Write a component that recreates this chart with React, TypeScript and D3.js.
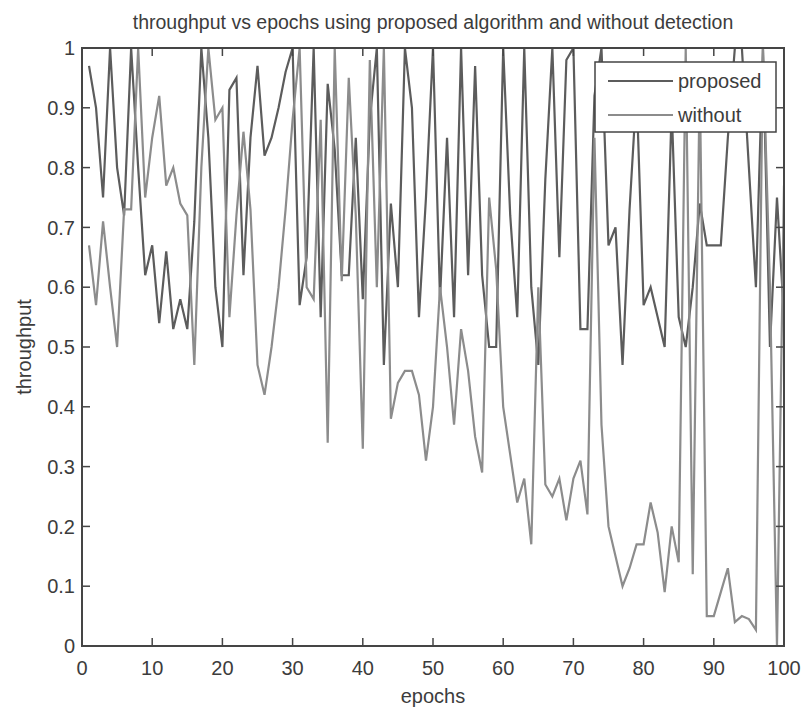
import React, { useEffect, useRef } from 'react';
import * as d3 from 'd3';

// throughput per epoch (1..100)
const proposed = [
  0.97, 0.9, 0.75, 1.0, 0.8, 0.72, 1.0, 0.8, 0.62, 0.67,
  0.54, 0.66, 0.53, 0.58, 0.53, 0.71, 1.0, 0.85, 0.6, 0.5,
  0.93, 0.95, 0.62, 0.85, 0.97, 0.82, 0.85, 0.9, 0.96, 1.0,
  0.57, 0.65, 1.0, 0.55, 0.94, 0.83, 0.62, 0.62, 0.85, 0.58,
  0.88, 1.0, 0.47, 0.74, 0.6, 1.0, 0.9, 0.55, 0.75, 1.0,
  0.58, 0.85, 0.55, 1.0, 0.62, 0.97, 0.62, 0.5, 0.5, 1.0,
  0.72, 0.55, 1.0, 0.6, 0.47, 0.78, 1.0, 0.65, 0.98, 1.0,
  0.53, 0.53, 0.92, 1.0, 0.67, 0.7, 0.47, 0.73, 0.93, 0.57,
  0.6, 0.55, 0.5, 0.9, 0.55, 0.5, 0.6, 0.74, 0.67, 0.67,
  0.67, 0.85, 1.0, 1.0, 0.8, 0.6, 1.0, 0.5, 0.75, 0.55,
];
const without = [
  0.67, 0.57, 0.71, 0.6, 0.5, 0.73, 0.73, 1.0, 0.75, 0.85,
  0.92, 0.77, 0.8, 0.74, 0.72, 0.47, 0.8, 1.0, 0.88, 0.9,
  0.55, 0.72, 0.86, 0.73, 0.47, 0.42, 0.5, 0.6, 0.73, 0.88,
  1.0, 0.6, 0.58, 0.88, 0.34, 1.0, 0.61, 0.95, 0.72, 0.33,
  0.98, 0.6, 1.0, 0.38, 0.44, 0.46, 0.46, 0.42, 0.31, 0.4,
  0.6, 0.5, 0.37, 0.53, 0.46, 0.35, 0.29, 0.75, 0.63, 0.4,
  0.32, 0.24, 0.28, 0.17, 0.6, 0.27, 0.25, 0.28, 0.21, 0.28,
  0.31, 0.22, 0.85, 0.37, 0.2, 0.15, 0.1, 0.13, 0.17, 0.17,
  0.24, 0.19, 0.09, 0.2, 0.14, 1.0, 0.12, 0.95, 0.05, 0.05,
  0.09, 0.13, 0.04, 0.05, 0.045, 0.027, 1.0, 0.6, 0.0, 0.77,
];
const xTicks = [0, 10, 20, 30, 40, 50, 60, 70, 80, 90, 100];
const yTicks = [0, 0.1, 0.2, 0.3, 0.4, 0.5, 0.6, 0.7, 0.8, 0.9, 1];
const seriesNames = ['proposed', 'without'];

const W = 803;
const H = 709;
const FONT = '"Liberation Sans", Arial, sans-serif';

const App = () => {
  const svgRef = useRef<SVGSVGElement>(null);

  useEffect(() => {
    const margin = { top: 48, right: 19, bottom: 63, left: 82 };
    const iw = W - margin.left - margin.right;
    const ih = H - margin.top - margin.bottom;

    d3.select(svgRef.current).selectAll('*').remove();
    const svg = d3.select(svgRef.current);
    const g = svg.append('g').attr('transform', `translate(${margin.left},${margin.top})`);

    const x = d3.scaleLinear().domain([0, 100]).range([0, iw]);
    const y = d3.scaleLinear().domain([0, 1]).range([ih, 0]);

    // 데이터 선
    const line = d3.line<number>()
      .x((_, i) => x(i + 1))
      .y(d => y(d));

    g.append('clipPath').attr('id', 'plotclip')
      .append('rect').attr('width', iw).attr('height', ih);

    const colors = ['#5c5c5c', '#8c8c8c'];
    [proposed, without].forEach((s, k) => {
      g.append('path')
        .datum(s)
        .attr('d', line)
        .attr('clip-path', 'url(#plotclip)')
        .style('fill', 'none')
        .style('stroke', colors[k])
        .style('stroke-width', 2.2);
    });

    // 눈금 (안쪽, 네 면 모두)
    const tl = 8;
    const axisColor = '#454545';
    const textColor = '#3c3c3c';
    xTicks.forEach(t => {
      g.append('line').attr('x1', x(t)).attr('x2', x(t)).attr('y1', ih).attr('y2', ih - tl)
        .style('stroke', axisColor).style('stroke-width', 1.5);
      g.append('line').attr('x1', x(t)).attr('x2', x(t)).attr('y1', 0).attr('y2', tl)
        .style('stroke', axisColor).style('stroke-width', 1.5);
      g.append('text')
        .attr('x', x(t)).attr('y', ih + 29)
        .style('text-anchor', 'middle')
        .style('font-family', FONT).style('font-size', '20px').style('fill', textColor)
        .text(t);
    });
    yTicks.forEach(t => {
      g.append('line').attr('x1', 0).attr('x2', tl).attr('y1', y(t)).attr('y2', y(t))
        .style('stroke', axisColor).style('stroke-width', 1.5);
      g.append('line').attr('x1', iw).attr('x2', iw - tl).attr('y1', y(t)).attr('y2', y(t))
        .style('stroke', axisColor).style('stroke-width', 1.5);
      g.append('text')
        .attr('x', -7).attr('y', y(t))
        .attr('dy', '0.36em')
        .style('text-anchor', 'end')
        .style('font-family', FONT).style('font-size', '20px').style('fill', textColor)
        .text(String(t));
    });

    g.append('rect')
      .attr('width', iw).attr('height', ih)
      .style('fill', 'none').style('stroke', axisColor).style('stroke-width', 2);

    // 범례
    const lg = g.append('g').attr('transform', `translate(${595 - margin.left},${62 - margin.top})`);
    lg.append('rect').attr('width', 181).attr('height', 70)
      .style('fill', '#fff').style('stroke', '#444').style('stroke-width', 1.5);
    seriesNames.forEach((name, i) => {
      const yy = 19 + i * 34;
      lg.append('line').attr('x1', 13).attr('x2', 78).attr('y1', yy).attr('y2', yy)
        .style('stroke', colors[i]).style('stroke-width', 2);
      lg.append('text')
        .attr('x', 83).attr('y', yy).attr('dy', '0.33em')
        .style('font-family', FONT).style('font-size', '20px').style('fill', textColor)
        .text(name);
    });

    // 제목과 축 이름
    svg.append('text')
      .attr('x', margin.left + iw / 2).attr('y', 29)
      .style('text-anchor', 'middle')
      .style('font-family', FONT).style('font-size', '19.5px').style('fill', textColor)
      .text('throughput vs epochs using proposed algorithm and without detection');
    svg.append('text')
      .attr('x', margin.left + iw / 2).attr('y', 703)
      .style('text-anchor', 'middle')
      .style('font-family', FONT).style('font-size', '20px').style('fill', textColor)
      .text('epochs');
    svg.append('text')
      .attr('transform', `translate(31,${margin.top + ih / 2}) rotate(-90)`)
      .style('text-anchor', 'middle')
      .style('font-family', FONT).style('font-size', '20px').style('fill', textColor)
      .text('throughput');
  }, []);

  return (
    <svg
      ref={svgRef}
      width={W}
      height={H}
      style={{ position: 'absolute', left: 0, top: 0, background: '#fff' }}
    />
  );
};

export default App;
